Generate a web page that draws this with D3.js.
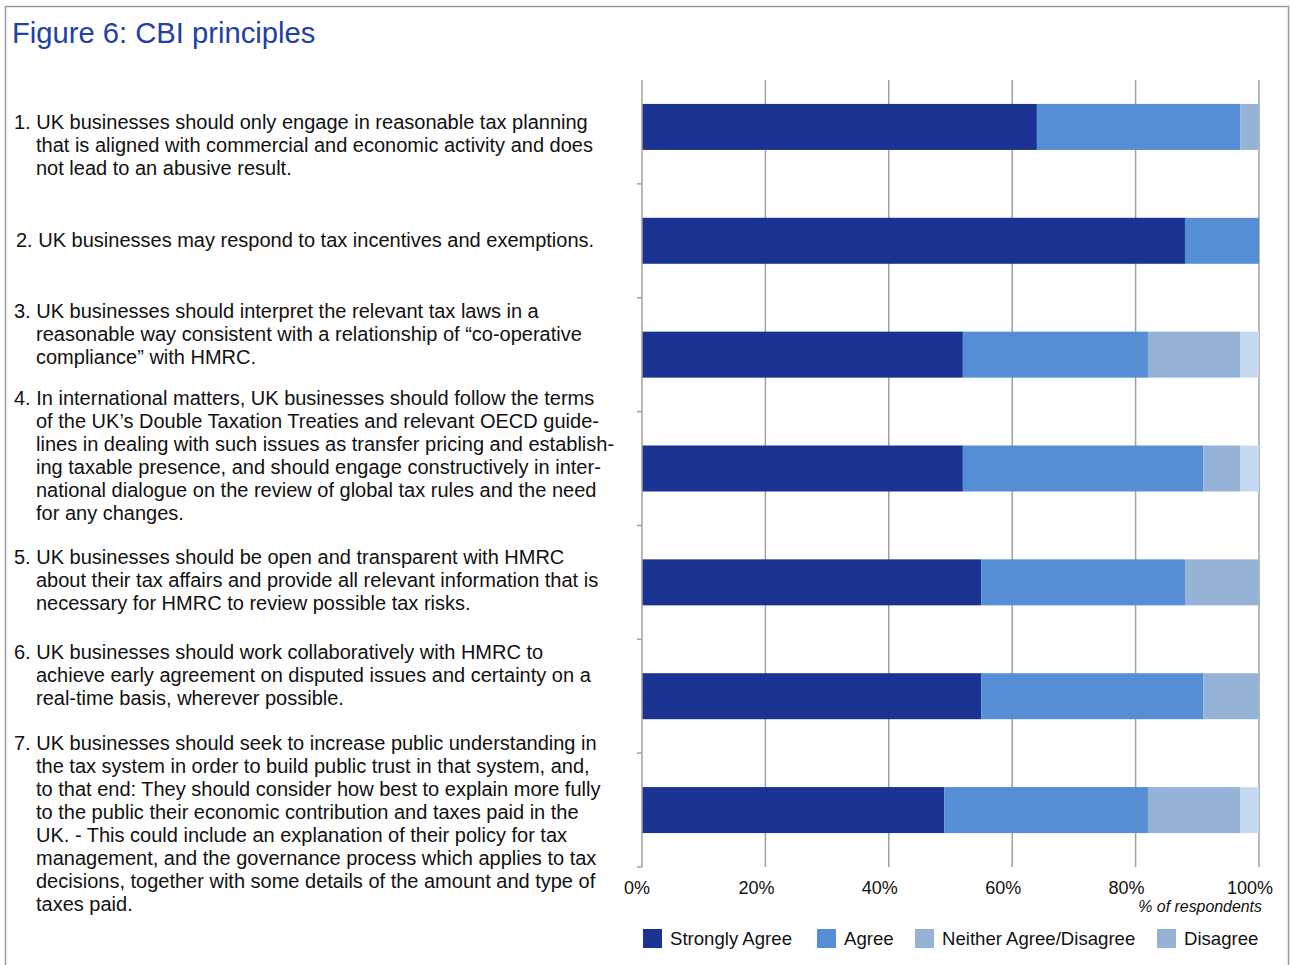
<!DOCTYPE html>
<html>
<head>
<meta charset="utf-8">
<script src="https://cdn.jsdelivr.net/npm/d3@7"></script>
<style>
  body { margin: 0; background: #fff; }
  svg { font-family: "Liberation Sans", Arial, sans-serif; }
</style>
</head>
<body>
<svg width="1290" height="965"></svg>
<script>
// categories (principle number) and the wrapped text shown for each
var principles = ["1", "2", "3", "4", "5", "6", "7"];
var principleLines = [
  ["1. UK businesses should only engage in reasonable tax planning",
   "that is aligned with commercial and economic activity and does",
   "not lead to an abusive result."],
  ["2. UK businesses may respond to tax incentives and exemptions."],
  ["3. UK businesses should interpret the relevant tax laws in a",
   "reasonable way consistent with a relationship of \u201cco-operative",
   "compliance\u201d with HMRC."],
  ["4. In international matters, UK businesses should follow the terms",
   "of the UK\u2019s Double Taxation Treaties and relevant OECD guide-",
   "lines in dealing with such issues as transfer pricing and establish-",
   "ing taxable presence, and should engage constructively in inter-",
   "national dialogue on the review of global tax rules and the need",
   "for any changes."],
  ["5. UK businesses should be open and transparent with HMRC",
   "about their tax affairs and provide all relevant information that is",
   "necessary for HMRC to review possible tax risks."],
  ["6. UK businesses should work collaboratively with HMRC to",
   "achieve early agreement on disputed issues and certainty on a",
   "real-time basis, wherever possible."],
  ["7. UK businesses should seek to increase public understanding in",
   "the tax system in order to build public trust in that system, and,",
   "to that end: They should consider how best to explain more fully",
   "to the public their economic contribution and taxes paid in the",
   "UK. - This could include an explanation of their policy for tax",
   "management, and the governance process which applies to tax",
   "decisions, together with some details of the amount and type of",
   "taxes paid."]
];

// series (% of respondents)
var seriesNames = ["Strongly Agree", "Agree", "Neither Agree/Disagree", "Disagree"];
var stronglyAgree = [64, 88, 52, 52, 55, 55, 49];
var agree         = [33, 12, 30, 39, 33, 36, 33];
var neither       = [3, 0, 15, 6, 12, 9, 15];
var disagree      = [0, 0, 3, 3, 0, 0, 3];

var xTicks = [0, 20, 40, 60, 80, 100];

// colours
var barColors = ["#1a3291", "#558ed5", "#95b3d7", "#c6d9f1"];
var legendColors = ["#1a3291", "#558ed5", "#95b3d7", "#95b3d7"];

// layout of the text block (first line of each item)
var labelTop = [129, 247, 318, 405, 564, 659, 750];
var labelIndent = [14, 16, 14, 14, 14, 14, 14];
var lineHeight = 23;

var data = principles.map(function(p, i) {
  return { id: p, sa: stronglyAgree[i], ag: agree[i], ne: neither[i], di: disagree[i] };
});
var keys = ["sa", "ag", "ne", "di"];

var svg = d3.select("svg");

// frame round the figure
svg.append("rect")
    .attr("x", 5.5).attr("y", 6.5)
    .attr("width", 1283).attr("height", 980)
    .attr("fill", "none")
    .attr("stroke", "#9a9a9a")
    .attr("stroke-width", 1.5);

svg.append("text")
    .attr("x", 12).attr("y", 43)
    .attr("font-size", 29.2)
    .attr("fill", "#2240a8")
    .text("Figure 6: CBI principles");

// the text of the principles
var items = svg.append("g").selectAll("text")
    .data(principleLines)
    .enter().append("text")
    .attr("font-size", 20)
    .attr("fill", "#111");

items.selectAll("tspan")
    .data(function(d, i) { return d.map(function(l, j) { return { line: l, item: i, j: j }; }); })
    .enter().append("tspan")
    .attr("x", function(d) { return d.j === 0 ? labelIndent[d.item] : 36; })
    .attr("y", function(d) { return labelTop[d.item] + d.j * lineHeight; })
    .text(function(d) { return d.line; });

// scales
var x = d3.scaleLinear().domain([0, 100]).range([642, 1259]);
var y = d3.scaleBand().domain(principles).range([70, 867])
    .paddingInner(0.596).paddingOuter(0.298);

var plotTop = 80, plotBottom = 867;

// gridlines
svg.append("g").selectAll("line")
    .data(xTicks.slice(1))
    .enter().append("line")
    .attr("x1", function(d) { return x(d); })
    .attr("x2", function(d) { return x(d); })
    .attr("y1", plotTop).attr("y2", plotBottom)
    .attr("stroke", "#a0a0a0")
    .attr("stroke-width", 1.5);

// stacked bars
var stack = d3.stack().keys(keys);
var layers = stack(data);

svg.append("g").selectAll("g")
    .data(layers)
    .enter().append("g")
    .attr("fill", function(d, i) { return barColors[i]; })
    .selectAll("rect")
    .data(function(d) { return d; })
    .enter().append("rect")
    .attr("x", function(d) { return x(d[0]); })
    .attr("y", function(d) { return y(d.data.id); })
    .attr("width", function(d) { return x(d[1]) - x(d[0]); })
    .attr("height", y.bandwidth());

// left axis with ticks between the bars
var step = y.step();
svg.append("line")
    .attr("x1", x(0)).attr("x2", x(0))
    .attr("y1", plotTop).attr("y2", plotBottom)
    .attr("stroke", "#a0a0a0").attr("stroke-width", 1.5);

svg.append("g").selectAll("line")
    .data(principles)
    .enter().append("line")
    .attr("x1", x(0) - 5).attr("x2", x(0))
    .attr("y1", function(d) { return y(d) + y.bandwidth() + (step - y.bandwidth()) / 2; })
    .attr("y2", function(d) { return y(d) + y.bandwidth() + (step - y.bandwidth()) / 2; })
    .attr("stroke", "#a0a0a0").attr("stroke-width", 1.5);

// x tick labels
svg.append("g").selectAll("text")
    .data(xTicks)
    .enter().append("text")
    .attr("x", function(d) { return x(d) - (d === 0 ? 5 : 9); })
    .attr("y", 894)
    .attr("text-anchor", "middle")
    .attr("font-size", 18)
    .attr("fill", "#111")
    .text(function(d) { return d + "%"; });

svg.append("text")
    .attr("x", 1262).attr("y", 912)
    .attr("text-anchor", "end")
    .attr("font-size", 15.9)
    .attr("font-style", "italic")
    .attr("fill", "#111")
    .text("% of respondents");

// legend
var legendX = [643, 817, 915, 1157];
var legend = svg.append("g").selectAll("g")
    .data(seriesNames)
    .enter().append("g")
    .attr("transform", function(d, i) { return "translate(" + legendX[i] + ",929)"; });

legend.append("rect")
    .attr("width", 19).attr("height", 19)
    .attr("fill", function(d, i) { return legendColors[i]; });

legend.append("text")
    .attr("x", 27).attr("y", 16)
    .attr("font-size", 18.6)
    .attr("fill", "#111")
    .text(function(d) { return d; });
</script>
</body>
</html>
